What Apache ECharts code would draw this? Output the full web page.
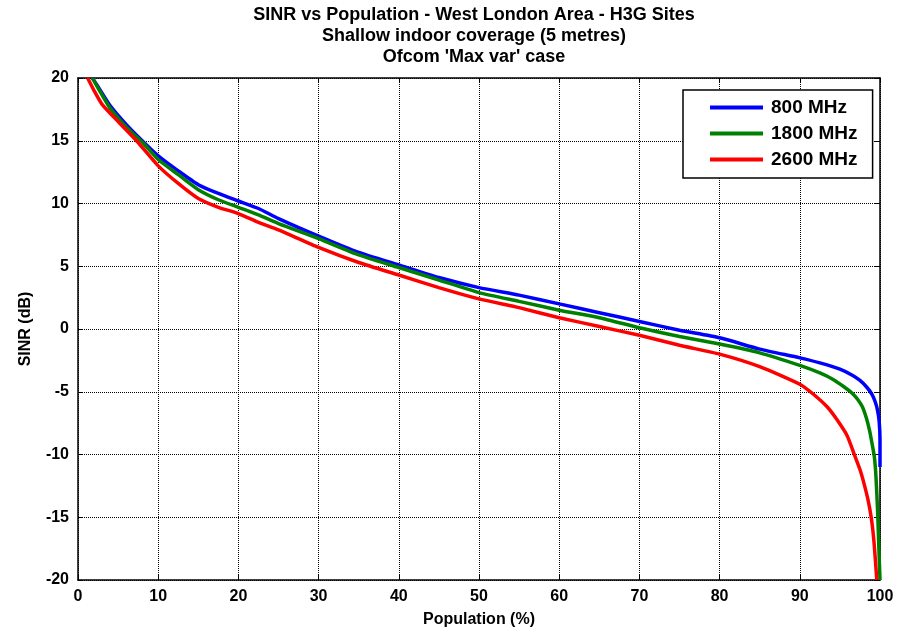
<!DOCTYPE html>
<html>
<head>
<meta charset="utf-8">
<script src="https://cdn.jsdelivr.net/npm/echarts@6/dist/echarts.min.js"></script>
<style>html,body{margin:0;padding:0;background:#fff}#c{width:897px;height:637px}</style>
</head>
<body>
<div id="c"></div>
<script>
var titleLines = ["SINR vs Population - West London Area - H3G Sites", "Shallow indoor coverage (5 metres)", "Ofcom 'Max var' case"];
var xName = "Population (%)";
var yName = "SINR (dB)";
var seriesNames = ["800 MHz", "1800 MHz", "2600 MHz"];
var seriesColors = ["#0000ff", "#008000", "#ff0000"];

// [population %, SINR dB]
var s800 = [[1.8,20],[2.5,19.3],[4,17.8],[6,16.3],[8,15.0],[10,13.8],[12.5,12.6],[15,11.5],[17.5,10.8],[20,10.2],[22.5,9.6],[25,8.8],[30,7.4],[35,6.1],[40,5.1],[45,4.1],[50,3.3],[55,2.7],[60,2.0],[65,1.3],[70,0.6],[75,-0.1],[80,-0.7],[85,-1.6],[90,-2.3],[92.5,-2.7],[95,-3.2],[96.6,-3.7],[97.5,-4.1],[98.3,-4.6],[99,-5.2],[99.4,-5.8],[99.7,-6.5],[99.9,-7.4],[100,-8.8],[100,-11]];
var s1800 = [[1.8,20],[2.5,19.2],[4,17.6],[6,16.1],[8,14.9],[10,13.5],[12.5,12.3],[15,11.1],[17.5,10.3],[20,9.7],[22.5,9.1],[25,8.4],[30,7.2],[35,5.9],[40,4.9],[45,3.9],[50,2.9],[55,2.2],[60,1.5],[65,0.9],[70,0.1],[75,-0.6],[80,-1.2],[85,-1.9],[90,-2.9],[92.5,-3.5],[94.1,-4.0],[95.5,-4.6],[96.5,-5.1],[97.2,-5.6],[97.8,-6.2],[98.3,-7.1],[98.7,-8.1],[99,-9.1],[99.3,-10.2],[99.5,-11.8],[99.7,-14.5],[99.85,-17.3],[100,-20]];
var s2600 = [[1.2,20],[2,19],[3,17.9],[5.2,16.4],[7.3,15.0],[10,13.0],[12.5,11.6],[15,10.4],[17.5,9.7],[20,9.2],[22.5,8.5],[25,7.9],[30,6.5],[35,5.3],[40,4.3],[45,3.3],[50,2.4],[55,1.7],[60,0.9],[65,0.2],[70,-0.5],[75,-1.3],[80,-2.0],[85,-3.0],[90,-4.4],[91.7,-5.2],[93.4,-6.2],[94.6,-7.2],[95.9,-8.5],[96.8,-10],[97.5,-11.2],[98,-12.3],[98.5,-13.6],[98.9,-15],[99.2,-16.6],[99.4,-18.2],[99.6,-20]];
var seriesData = [s800, s1800, s2600];

var FONT = "Liberation Sans";
var chart = echarts.init(document.getElementById('c'), null, {renderer: 'canvas'});
var gridLine = {show: true, lineStyle: {color: '#000', type: [1, 1], width: 1}};
var axisLine = {show: true, onZero: false, lineStyle: {color: '#000', width: 1.5}};
var tick = {show: true, inside: true, length: 5, lineStyle: {color: '#000', width: 1}};
var lbl = {fontFamily: FONT, fontWeight: 'bold', fontSize: 16, color: '#000'};

chart.setOption({
  animation: false,
  backgroundColor: '#fff',
  title: {
    text: titleLines.join('\n'),
    left: 474, top: 5, textAlign: 'center', padding: 0,
    textStyle: {fontFamily: FONT, fontWeight: 'bold', fontSize: 18, lineHeight: 21, color: '#000'}
  },
  grid: {left: 78, right: 17, top: 78, bottom: 57, show: false},
  legend: {
    orient: 'vertical', left: 683, top: 90,
    padding: [8, 15, 9, 27], itemGap: 7,
    backgroundColor: '#fff', borderColor: '#000', borderWidth: 1.5,
    itemWidth: 53, itemHeight: 4, icon: 'rect',
    textStyle: {fontFamily: FONT, fontWeight: 'bold', fontSize: 19, color: '#000', padding: [0, 0, 0, 3]},
    data: seriesNames
  },
  xAxis: [{
    type: 'value', min: 0, max: 100, interval: 10, position: 'bottom',
    name: xName, nameLocation: 'middle', nameGap: 32,
    nameTextStyle: lbl,
    axisLine: axisLine, axisTick: tick, splitLine: gridLine,
    axisLabel: Object.assign({margin: 9}, lbl)
  }, {
    type: 'value', min: 0, max: 100, interval: 10, position: 'top',
    axisLine: axisLine, axisTick: tick, splitLine: {show: false}, axisLabel: {show: false}
  }],
  yAxis: [{
    type: 'value', min: -20, max: 20, interval: 5, position: 'left',
    name: yName, nameLocation: 'middle', nameGap: 44, nameRotate: 90,
    nameTextStyle: lbl,
    axisLine: axisLine, axisTick: tick, splitLine: gridLine,
    axisLabel: Object.assign({margin: 9}, lbl)
  }, {
    type: 'value', min: -20, max: 20, interval: 5, position: 'right',
    axisLine: axisLine, axisTick: tick, splitLine: {show: false}, axisLabel: {show: false}
  }],
  series: seriesNames.map(function (n, i) {
    return {
      name: n, type: 'line', data: seriesData[i], showSymbol: false, symbol: 'none',
      smooth: 0.2, clip: true,
      lineStyle: {color: seriesColors[i], width: 3.5},
      itemStyle: {color: seriesColors[i]},
      z: 3 + i
    };
  })
});
</script>
</body>
</html>
